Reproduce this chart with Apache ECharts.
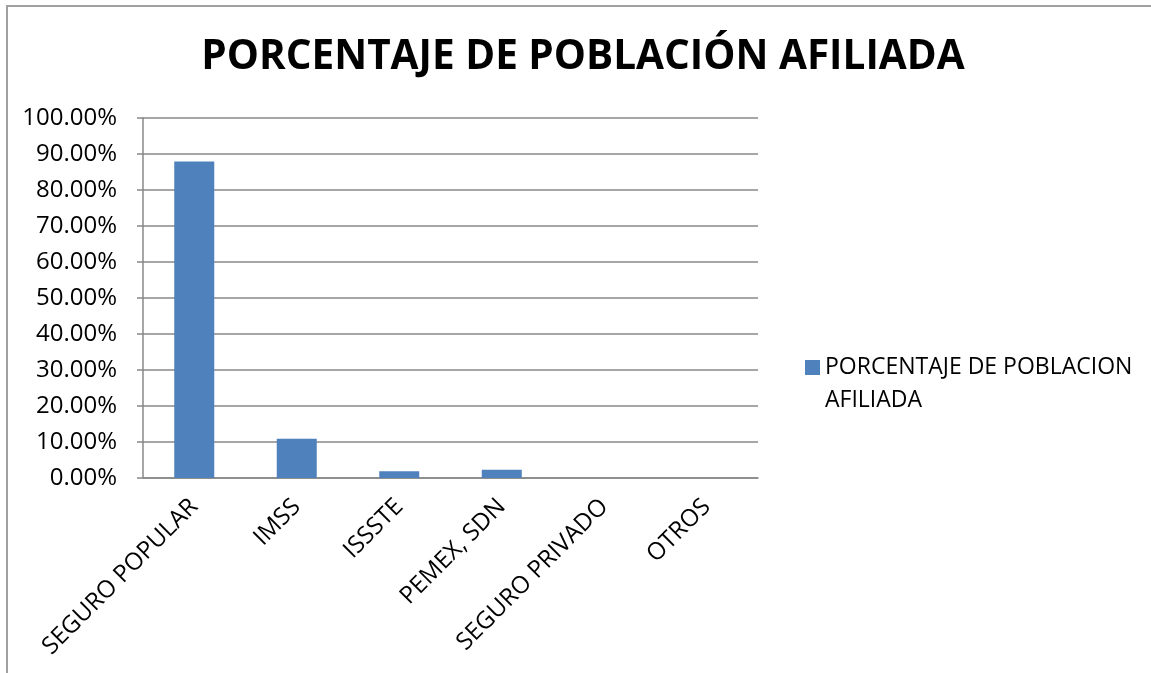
<!DOCTYPE html>
<html>
<head>
<meta charset="utf-8">
<script src="https://cdn.jsdelivr.net/npm/echarts@6/dist/echarts.min.js"></script>
<style>
  html, body { margin: 0; padding: 0; background: #fff; }
  #frame { position: absolute; left: 6px; top: 5px; width: 1200px; height: 700px;
           border-left: 2px solid #a0a0a0; border-top: 2px solid #a0a0a0; }
  #chart { position: absolute; left: 0; top: 0; width: 1151px; height: 673px; }
</style>
</head>
<body>
<div id="frame"></div>
<div id="chart"></div>
<script>
// categorias del eje x
const categories = ['SEGURO POPULAR', 'IMSS', 'ISSSTE', 'PEMEX, SDN', 'SEGURO PRIVADO', 'OTROS'];
// porcentaje de poblacion afiliada (fraccion)
const values = [0.879, 0.109, 0.019, 0.023, 0, 0];
const seriesName = 'PORCENTAJE DE POBLACION AFILIADA';

const myChart = echarts.init(document.getElementById('chart'));
const option = {
  animation: false,
  title: {
    text: 'PORCENTAJE DE POBLACIÓN AFILIADA',
    left: 578,
    textAlign: 'center',
    top: 32,
    textStyle: { fontFamily: 'Open Sans', fontWeight: 'bold', fontSize: 40.5, color: '#000' }
  },
  legend: {
    left: 800,
    top: 346,
    orient: 'vertical',
    itemWidth: 15,
    itemHeight: 48,
    // cuadro arriba para alinearlo con la primera linea
    icon: 'path://M0,0H10V10H0Z M0,32H10V32.01H0Z',
    formatter: function () { return 'PORCENTAJE DE POBLACION\nAFILIADA'; },
    textStyle: { fontFamily: 'Open Sans', fontSize: 23, color: '#000', lineHeight: 33 }
  },
  grid: { left: 143, right: 393, top: 118, bottom: 195 },
  xAxis: {
    type: 'category',
    data: categories,
    axisLine: { lineStyle: { color: '#888', width: 1.5 } },
    axisTick: { length: 7, lineStyle: { color: '#888', width: 1.5 } },
    axisLabel: { rotate: 45, fontFamily: 'Open Sans', fontSize: 24, color: '#000', margin: 25, interval: 0 }
  },
  yAxis: {
    type: 'value',
    min: 0,
    max: 1,
    interval: 0.1,
    axisLine: { show: true, lineStyle: { color: '#888', width: 1.5 } },
    axisTick: { show: true, length: 6, lineStyle: { color: '#888', width: 1.5 } },
    splitLine: { lineStyle: { color: '#888', width: 1.5 } },
    axisLabel: {
      fontFamily: 'Open Sans', fontSize: 24, color: '#000', margin: 26,
      formatter: function (v) { return (v * 100).toFixed(2) + '%'; }
    }
  },
  series: [{
    name: seriesName,
    type: 'bar',
    data: values,
    barWidth: 40,
    itemStyle: { color: '#4F81BD' }
  }]
};
myChart.setOption(option);
</script>
</body>
</html>
